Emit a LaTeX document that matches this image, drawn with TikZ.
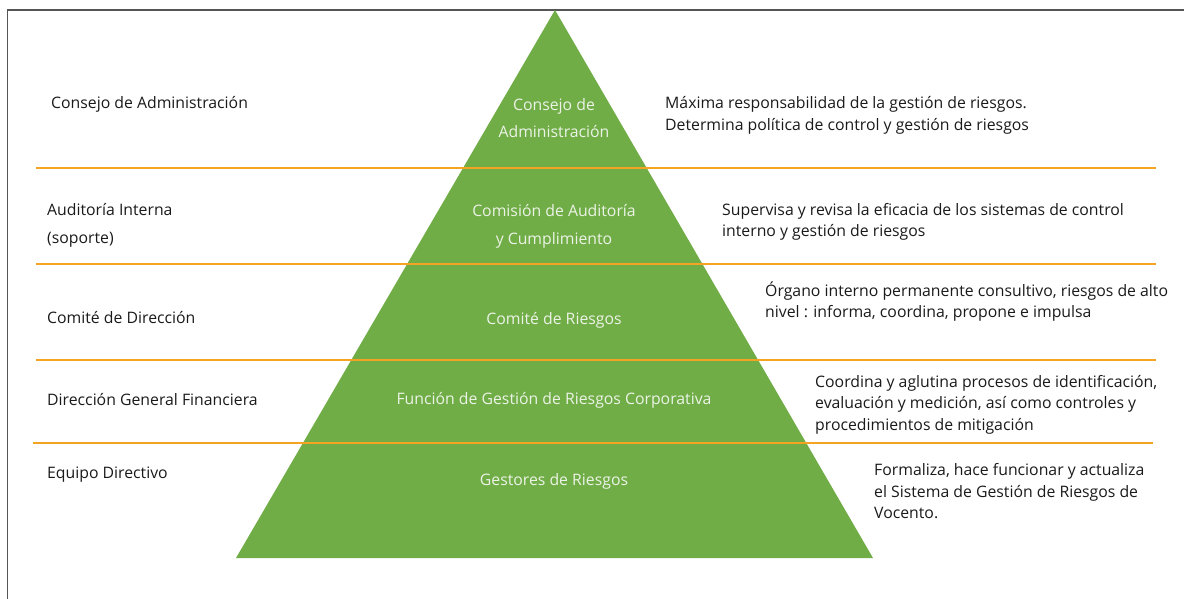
\documentclass[tikz,border=0pt]{standalone}
\usepackage{fontspec}
\setmainfont{Open Sans}
\definecolor{pgreen}{RGB}{112,173,71}
\definecolor{porange}{RGB}{245,163,35}
\definecolor{frame}{RGB}{85,85,85}
\definecolor{txt}{RGB}{26,26,26}
\definecolor{intxt}{RGB}{236,243,230}
\begin{document}
\begin{tikzpicture}[x=1pt,y=-1pt,
  lbl/.style={anchor=west,inner sep=0pt,text=txt,align=left,font=\fontsize{15.8}{28}\selectfont},
  desc/.style={anchor=west,inner sep=0pt,text=txt,align=left,font=\fontsize{15.8}{21.5}\selectfont},
  inlbl/.style={anchor=center,inner sep=0pt,text=intxt,align=center,font=\fontsize{15.8}{27.5}\selectfont},
  sep/.style={draw=porange,line width=2pt}]
\useasboundingbox (0,0) rectangle (1184,599);
% frame
\draw[frame,line width=1.5pt] (7.5,599) -- (7.5,10) -- (1184,10);
% pyramid
\coordinate (apex) at (555,10);
\coordinate (bl) at (236,558);
\coordinate (br) at (873,558);
\fill[pgreen] (apex) -- (br) -- (bl) -- cycle;
% separators
\coordinate (s1a) at (36,168); \coordinate (s1b) at (1156,168);
\coordinate (s2a) at (36,263.5); \coordinate (s2b) at (1156,263.5);
\coordinate (s3a) at (36,360); \coordinate (s3b) at (1156,360);
\coordinate (s4a) at (33,442.5); \coordinate (s4b) at (1153,442.5);
\draw[sep] (s1a) -- (s1b);
\draw[sep] (s2a) -- (s2b);
\draw[sep] (s3a) -- (s3b);
\draw[sep] (s4a) -- (s4b);
% left labels
\node[lbl] (l1) at (51,104.5) {Consejo de Administración};
\node[lbl] (l2) at (47,225.5) {Auditoría Interna\\(soporte)};
\node[lbl] (l3) at (47,317.5) {Comité de Dirección};
\node[lbl] (l4) at (47,399.5) {Dirección General Financiera};
\node[lbl] (l5) at (47,474.5) {Equipo Directivo};
% pyramid labels
\node[inlbl] (p1) at (554,118) {Consejo de\\Administración};
\node[inlbl] (p2) at (554,226.5) {Comisión de Auditoría\\y Cumplimiento};
\node[inlbl] (p3) at (554,320.5) {Comité de Riesgos};
\node[inlbl] (p4) at (554,400.5) {Función de Gestión de Riesgos Corporativa};
\node[inlbl] (p5) at (554,481.5) {Gestores de Riesgos};
% descriptions
\node[desc] (d1) at (665,115.5) {Máxima responsabilidad de la gestión de riesgos.\\Determina política de control y gestión de riesgos};
\node[desc] (d2) at (722,222) {Supervisa y revisa la eficacia de los sistemas de control\\interno y gestión de riesgos};
\node[desc] (d3) at (765,301.5) {Órgano interno permanente consultivo, riesgos de alto\\nivel : informa, coordina, propone e impulsa};
\node[desc] (d4) at (815,404.5) {Coordina y aglutina procesos de identificación,\\evaluación y medición, así como controles y\\procedimientos de mitigación};
\node[desc] (d5) at (874,491.5) {Formaliza, hace funcionar y actualiza\\el Sistema de Gestión de Riesgos de\\Vocento.};
\end{tikzpicture}
\end{document}
